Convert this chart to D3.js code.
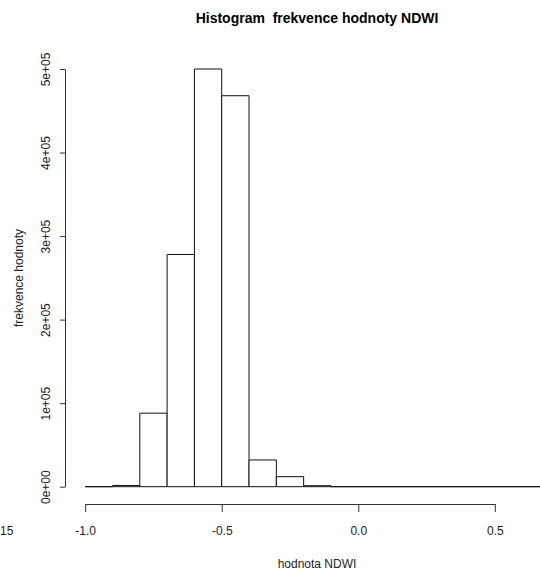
<!DOCTYPE html>
<html>
<head>
<meta charset="utf-8">
<script src="https://cdn.jsdelivr.net/npm/d3@7"></script>
<style>
    body { margin: 0; background: #fff; }
    svg { display: block; font-family: "Liberation Sans", Arial, sans-serif; }
</style>
</head>
<body>
<div id="chart"></div>
<script>

// Bin edges (hodnota NDWI) and counts per bin
const binStarts = [-1.0, -0.9, -0.8, -0.7, -0.6, -0.5, -0.4, -0.3, -0.2, -0.1, 0.0, 0.1, 0.2, 0.3, 0.4, 0.5, 0.6];
const binWidth = 0.1;
const counts = [0, 1500, 88000, 278000, 500000, 468000, 32000, 12000, 1200, 0, 0, 0, 0, 0, 0, 0, 0];

const xTicks = [-1.0, -0.5, 0.0, 0.5];
const yTicks = [0, 100000, 200000, 300000, 400000, 500000];
const yTickLabels = ["0e+00", "1e+05", "2e+05", "3e+05", "4e+05", "5e+05"];

const width = 540;
const height = 570;

const svg = d3.select("#chart")
    .append("svg")
    .attr("width", width)
    .attr("height", height);

const x = d3.scaleLinear()
    .domain([-1.0, 0.5])
    .range([85.2, 494.8]);

const y = d3.scaleLinear()
    .domain([0, 500000])
    .range([486.7, 69]);

const bins = binStarts.map(function(d, i) {
    return { x0: d, x1: d + binWidth, count: counts[i] };
});

// Bars as closed paths, so empty bins still show as a flat line
svg.append("g")
    .selectAll("path")
    .data(bins)
    .enter()
    .append("path")
    .attr("d", function(d) {
        const x0 = x(d.x0), x1 = x(d.x1);
        const y0 = y(0), y1 = y(d.count);
        return "M" + x0 + "," + y0 + "V" + y1 + "H" + x1 + "V" + y0 + "Z";
    })
    .attr("fill", "#fff")
    .attr("stroke", "#111")
    .attr("stroke-width", 1);

// X axis
const xAxis = svg.append("g")
    .attr("transform", "translate(0,504)")
    .call(d3.axisBottom(x)
        .tickValues(xTicks)
        .tickSize(8)
        .tickSizeOuter(0)
        .tickFormat(function(d) { return d.toFixed(1); }));

xAxis.select(".domain").attr("stroke", "#333");
xAxis.selectAll(".tick line").attr("stroke", "#333");
xAxis.selectAll("text")
    .attr("y", 27)
    .attr("dy", "0.35em")
    .attr("font-size", 12)
    .attr("font-family", "Liberation Sans, Arial, sans-serif")
    .attr("fill", "#222");

// Y axis
const yAxis = svg.append("g")
    .attr("transform", "translate(65,0)")
    .call(d3.axisLeft(y)
        .tickValues(yTicks)
        .tickSize(5)
        .tickSizeOuter(0)
        .tickFormat(function(d, i) { return yTickLabels[i]; }));

yAxis.select(".domain").attr("stroke", "#333");
yAxis.selectAll(".tick line").attr("stroke", "#333");
yAxis.selectAll("text")
    .attr("x", null)
    .attr("dy", null)
    .attr("transform", "translate(-19,0) rotate(-90)")
    .attr("text-anchor", "middle")
    .attr("dominant-baseline", "central")
    .attr("font-size", 12)
    .attr("font-family", "Liberation Sans, Arial, sans-serif")
    .attr("fill", "#222");

// Title and axis labels
svg.append("text")
    .attr("x", 317)
    .attr("y", 18)
    .attr("dy", "0.35em")
    .attr("text-anchor", "middle")
    .attr("font-size", 14)
    .attr("font-weight", "bold")
    .style("white-space", "pre")
    .text("Histogram  frekvence hodnoty NDWI");

svg.append("text")
    .attr("x", 317)
    .attr("y", 564)
    .attr("dy", "0.35em")
    .attr("text-anchor", "middle")
    .attr("font-size", 12)
    .attr("fill", "#222")
    .text("hodnota NDWI");

svg.append("text")
    .attr("transform", "translate(19,278) rotate(-90)")
    .attr("text-anchor", "middle")
    .attr("dominant-baseline", "central")
    .attr("font-size", 12)
    .attr("fill", "#222")
    .text("frekvence hodnoty");

// Stray tick label at the left edge, as in the original
svg.append("text")
    .attr("x", 0)
    .attr("y", 531)
    .attr("dy", "0.35em")
    .attr("font-size", 12)
    .attr("fill", "#222")
    .text("15");

</script>
</body>
</html>
